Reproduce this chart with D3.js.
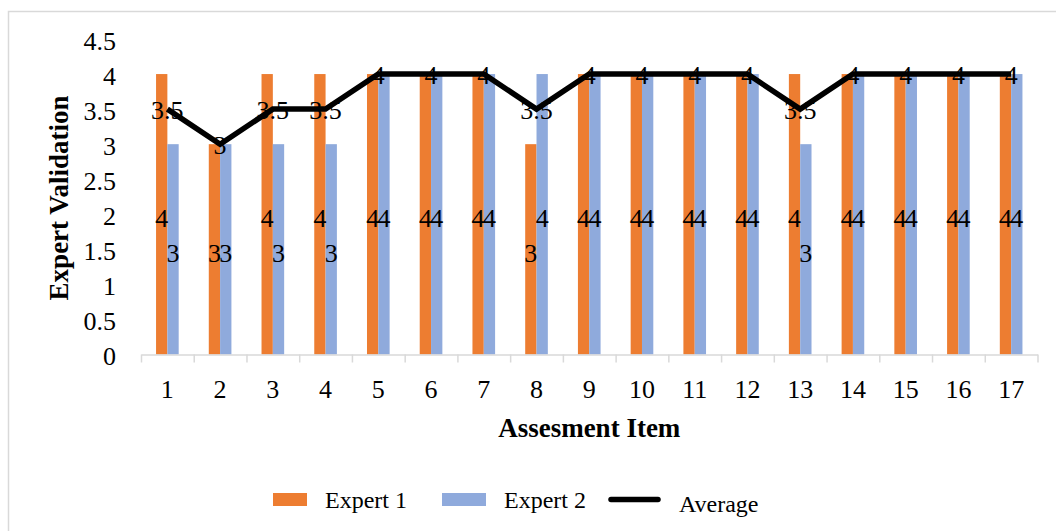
<!DOCTYPE html>
<html>
<head>
<meta charset="utf-8">
<script src="https://cdn.jsdelivr.net/npm/d3@7/dist/d3.min.js"></script>
<style>
  html, body { margin: 0; padding: 0; background: #fff; }
  svg { display: block; font-family: "Liberation Serif", "Times New Roman", serif; }
</style>
</head>
<body>
<svg id="chart" width="1056" height="531"></svg>
<script>
// Assessment items and the two experts' scores
const items = d3.range(1, 18).map(String);
const expert1 = [4, 3, 4, 4, 4, 4, 4, 3, 4, 4, 4, 4, 4, 4, 4, 4, 4];
const expert2 = [3, 3, 3, 3, 4, 4, 4, 4, 4, 4, 4, 4, 3, 4, 4, 4, 4];
const average = [3.5, 3, 3.5, 3.5, 4, 4, 4, 3.5, 4, 4, 4, 4, 3.5, 4, 4, 4, 4];
const yTicks = [0, 0.5, 1, 1.5, 2, 2.5, 3, 3.5, 4, 4.5];
const seriesNames = ["Expert 1", "Expert 2", "Average"];

const colors = { e1: "#ED7D31", e2: "#8FAADC", avg: "#000000" };
const gridColor = "#D9D9D9";

const svg = d3.select("#chart");

// chart frame
svg.append("path")
  .attr("d", "M8.5,531 V11.5 H1056")
  .attr("fill", "none")
  .attr("stroke", gridColor)
  .attr("stroke-width", 1.5);

const plot = { left: 141, right: 1037.5, top: 39, bottom: 354.5 };

const x = d3.scaleBand().domain(items).range([plot.left, plot.right]).padding(0);
const xEdge = d3.scaleLinear().domain([0, items.length]).range([plot.left, plot.right]);
const xSub = d3.scaleBand().domain(["e1", "e2"]).range([0, x.bandwidth()])
  .paddingInner(0).paddingOuter(1.33);
const y = d3.scaleLinear().domain([0, 4.5]).range([plot.bottom, plot.top]);

// y axis labels (no axis line)
const yAxis = svg.append("g")
  .attr("transform", `translate(${plot.left - 25},0)`)
  .call(d3.axisLeft(y).tickValues(yTicks).tickSize(0).tickPadding(0).tickFormat(d => String(d)));
yAxis.select(".domain").remove();
yAxis.selectAll("text")
  .attr("font-family", "'Liberation Serif', 'Times New Roman', serif")
  .attr("font-size", 26).attr("fill", "#000").attr("dy", "0.4em");

// bars
const rows = items.map((k, i) => ({ item: k, e1: expert1[i], e2: expert2[i], avg: average[i] }));
const groups = svg.append("g").selectAll("g").data(rows).join("g")
  .attr("transform", d => `translate(${x(d.item)},0)`);
groups.selectAll("rect").data(d => ["e1", "e2"].map(key => ({ key, v: d[key] }))).join("rect")
  .attr("x", d => xSub(d.key))
  .attr("width", xSub.bandwidth())
  .attr("y", d => y(d.v))
  .attr("height", d => y(0) - y(d.v))
  .attr("fill", d => colors[d.key]);

// x axis line with tick marks at category boundaries
const xTickMarks = svg.append("g")
  .attr("transform", `translate(0,${plot.bottom})`)
  .call(d3.axisBottom(xEdge).tickValues(d3.range(items.length + 1)).tickSize(8).tickSizeOuter(0).tickFormat(""));
xTickMarks.selectAll("line, path").attr("stroke", gridColor).attr("stroke-width", 1.5);

const xLabels = svg.append("g")
  .attr("transform", `translate(0,${plot.bottom})`)
  .call(d3.axisBottom(x).tickSize(0).tickPadding(0));
xLabels.select(".domain").remove();
xLabels.selectAll("text")
  .attr("font-family", "'Liberation Serif', 'Times New Roman', serif")
  .attr("font-size", 26).attr("fill", "#000").attr("dy", null).attr("y", 43);

// average line
const line = d3.line()
  .x(d => x(d.item) + x.bandwidth() / 2)
  .y(d => y(d.avg));
svg.append("path").datum(rows)
  .attr("d", line)
  .attr("fill", "none")
  .attr("stroke", colors.avg)
  .attr("stroke-width", 5.5)
  .attr("stroke-linejoin", "miter");

// bar value labels, centred inside each bar
const labelFont = { family: "'Liberation Serif', 'Times New Roman', serif", size: 26 };
groups.selectAll("text.bar-label").data(d => ["e1", "e2"].map(key => ({ key, v: d[key] }))).join("text")
  .attr("class", "bar-label")
  .attr("x", d => xSub(d.key) + xSub.bandwidth() / 2)
  .attr("y", d => y(d.v / 2))
  .attr("dy", "0.5em")
  .attr("text-anchor", "middle")
  .attr("font-family", labelFont.family)
  .attr("font-size", labelFont.size)
  .text(d => d.v);

// average value labels, centred on each point
svg.append("g").selectAll("text").data(rows).join("text")
  .attr("x", d => x(d.item) + x.bandwidth() / 2)
  .attr("y", d => y(d.avg))
  .attr("dy", "0.38em")
  .attr("text-anchor", "middle")
  .attr("font-family", labelFont.family)
  .attr("font-size", labelFont.size)
  .text(d => d.avg);

// axis titles
svg.append("text")
  .attr("x", (plot.left + plot.right) / 2)
  .attr("y", 437)
  .attr("text-anchor", "middle")
  .attr("font-weight", "bold")
  .attr("font-size", 27)
  .text("Assesment Item");

svg.append("text")
  .attr("transform", "translate(68,198) rotate(-90)")
  .attr("text-anchor", "middle")
  .attr("font-weight", "bold")
  .attr("font-size", 27)
  .text("Expert Validation");

// legend
const legend = svg.append("g");
const legendItems = [
  { name: seriesNames[0], type: "rect", color: colors.e1, x0: 273, x1: 307, tx: 325, ty: 508 },
  { name: seriesNames[1], type: "rect", color: colors.e2, x0: 442, x1: 486, tx: 504, ty: 508 },
  { name: seriesNames[2], type: "line", color: colors.avg, x0: 611, x1: 658, tx: 679, ty: 512 }
];
legendItems.forEach(it => {
  if (it.type === "rect") {
    legend.append("rect").attr("x", it.x0).attr("y", 493).attr("width", it.x1 - it.x0).attr("height", 13)
      .attr("fill", it.color);
  } else {
    legend.append("line").attr("x1", it.x0).attr("x2", it.x1).attr("y1", 499.5).attr("y2", 499.5)
      .attr("stroke", it.color).attr("stroke-width", 5.5).attr("stroke-linecap", "round");
  }
  legend.append("text").attr("x", it.tx).attr("y", it.ty)
    .attr("font-size", 24).attr("fill", "#000").text(it.name);
});
</script>
</body>
</html>
